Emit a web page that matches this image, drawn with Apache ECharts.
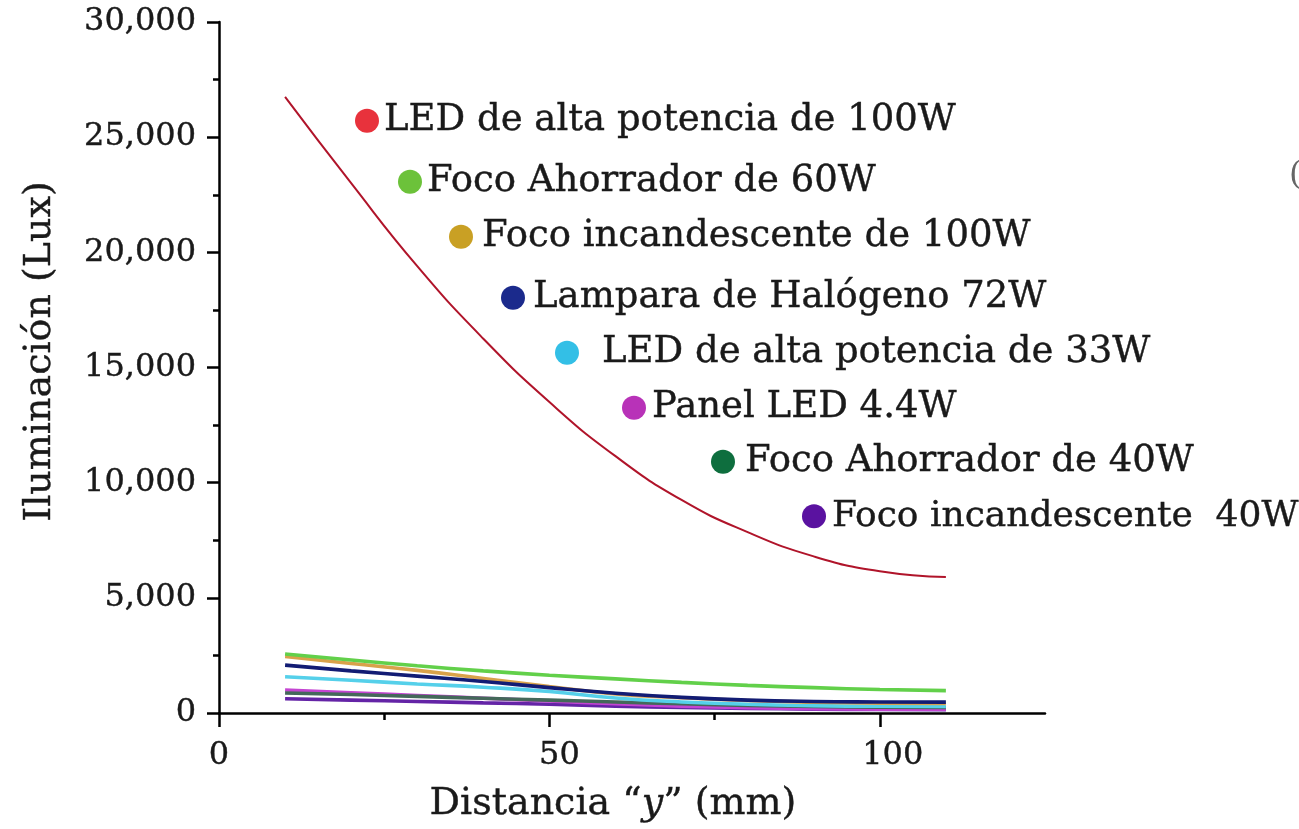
<!DOCTYPE html>
<html>
<head>
<meta charset="utf-8">
<script src="https://cdn.jsdelivr.net/npm/echarts@6/dist/echarts.min.js"></script>
<style>
html,body{margin:0;padding:0;background:#fff;}
#c{width:1299px;height:829px;}
</style>
</head>
<body>
<div id="c"></div>
<script>
// distances (mm)
const distances = [10, 20, 30, 40, 50, 60, 70, 80, 90, 100, 110];
// series names
const seriesNames = [
  'LED de alta potencia de 100W',
  'Foco Ahorrador de 60W',
  'Foco incandescente de 100W',
  'Lampara de Halógeno 72W',
  'LED de alta potencia de 33W',
  'Panel LED 4.4W',
  'Foco Ahorrador de 40W',
  'Foco incandescente  40W'
];
// illuminance values (Lux) per series
const led100 = [26750, 23000, 19400, 16250, 13500, 11150, 9250, 7850, 6800, 6150, 5900];
const ahorrador60 = [2560, 2300, 2050, 1830, 1640, 1480, 1330, 1200, 1100, 1020, 970];
const incand100 = [2450, 2150, 1850, 1500, 1150, 830, 660, 540, 470, 430, 410];
const halogeno72 = [2080, 1830, 1600, 1370, 1100, 860, 680, 560, 500, 480, 470];
const led33 = [1575, 1420, 1260, 1120, 930, 650, 480, 380, 320, 290, 280];
const panel44 = [1000, 880, 760, 640, 520, 400, 300, 230, 190, 170, 160];
const ahorrador40 = [870, 800, 720, 640, 560, 480, 400, 330, 280, 250, 240];
const incand40 = [620, 560, 500, 440, 380, 300, 240, 200, 170, 150, 140];
// tick values
const xMajorTicks = [0, 50, 100];
const xMinorTicks = [25, 75];

const allValues = [led100, ahorrador60, incand100, halogeno72, led33, panel44, ahorrador40, incand40];
const dotColors = ['#e8323c', '#6cc23a', '#c9a024', '#1b2a8c', '#33bfe6', '#b832b8', '#0e6e3e', '#5a12a0'];
const lineColors = ['#b0142a', '#62d04a', '#d9a24a', '#121c74', '#55d0ea', '#c444d2', '#44685a', '#6424a6'];
const lineWidths = [2, 3.6, 3.6, 3.6, 3.6, 3.6, 3.6, 3.6];
const zOrder = [10, 9, 7, 8, 6, 4, 5, 3];
// legend placement (dot centre), extra text gap, font size
const legendPos = [[367,120,0,37],[410,181,0,37],[461,236,4,37],[513,297,3,37],[567,352,18,37],[634,407,1,37],[723,461,5,37],[814,516,1,36]];

const FONT = '"DejaVu Serif", "Liberation Serif", serif';
const TXT = '#1a1a1a';

function pairs(vals){ return distances.map((d,i)=>[d, vals[i]]); }

const series = seriesNames.map((name, k) => ({
  name: name,
  type: 'line',
  data: pairs(allValues[k]),
  smooth: true,
  showSymbol: false,
  symbol: 'circle',
  z: zOrder[k],
  itemStyle: {color: dotColors[k]},
  lineStyle: {color: lineColors[k], width: lineWidths[k]},
  emphasis: {disabled: true}
}));

const legends = seriesNames.map((name, k) => ({
  data: [name],
  left: legendPos[k][0] - 12,
  top: legendPos[k][1] - 18,
  padding: 0,
  itemWidth: 24,
  itemHeight: 24,
  icon: 'circle',
  selectedMode: false,
  textStyle: {fontFamily: FONT, fontSize: legendPos[k][3], color: TXT, textBorderColor: TXT, textBorderWidth: 0.4,
    padding: [0,0,0,legendPos[k][2]]}
}));

function fmt(v){ return String(v).replace(/\B(?=(\d{3})+(?!\d))/g, ','); }

const chart = echarts.init(document.getElementById('c'), null, {renderer: 'canvas'});
chart.setOption({
  backgroundColor: '#fff',
  animation: false,
  grid: {left: 219, top: 22, width: 826, height: 691, containLabel: false},
  legend: legends,
  xAxis: [{
    type: 'value', min: 0, max: 125,
    name: 'Distancia “{i|y}” (mm)',
    nameLocation: 'middle', nameGap: 72,
    nameTextStyle: {fontFamily: FONT, fontSize: 38, color: TXT, padding: [0, 38, 0, 0],
      textBorderColor: TXT, textBorderWidth: 0.4,
      rich: {i: {fontFamily: FONT, fontSize: 38, fontStyle: 'italic', color: TXT, textBorderColor: TXT, textBorderWidth: 0.4}}},
    axisLine: {show: true, lineStyle: {color: '#000', width: 2.5}},
    axisTick: {show: true, length: 14, lineStyle: {color: '#000', width: 2.5}, customValues: xMajorTicks},
    axisLabel: {fontFamily: FONT, fontSize: 32, color: TXT, margin: 27, customValues: xMajorTicks,
      textBorderColor: TXT, textBorderWidth: 0.4,
      formatter: function(v){ return '{s' + xMajorTicks.indexOf(v) + '|' + v + '}'; },
      rich: {
        s0: {fontFamily: FONT, fontSize: 32, color: TXT, textBorderColor: TXT, textBorderWidth: 0.4},
        s1: {fontFamily: FONT, fontSize: 32, color: TXT, textBorderColor: TXT, textBorderWidth: 0.4, padding: [0,0,0,20]},
        s2: {fontFamily: FONT, fontSize: 32, color: TXT, textBorderColor: TXT, textBorderWidth: 0.4, padding: [0,0,0,26]}
      }},
    splitLine: {show: false}
  }, {
    type: 'value', min: 0, max: 125, position: 'bottom',
    axisLine: {show: false},
    axisTick: {show: true, length: 7, lineStyle: {color: '#000', width: 2.5}, customValues: xMinorTicks},
    axisLabel: {show: false},
    splitLine: {show: false}
  }],
  yAxis: {
    type: 'value', min: 0, max: 30000, interval: 5000,
    name: 'Iluminación (Lux)',
    nameLocation: 'middle', nameGap: 160,
    nameTextStyle: {fontFamily: FONT, fontSize: 38, color: TXT, textBorderColor: TXT, textBorderWidth: 0.4,
      padding: [0, 0, 0, 32]},
    axisLine: {show: true, lineStyle: {color: '#000', width: 2.5}},
    axisTick: {show: true, length: 12, lineStyle: {color: '#000', width: 2.5}},
    minorTick: {show: true, splitNumber: 2, length: 6, lineStyle: {color: '#000', width: 2.5}},
    axisLabel: {fontFamily: FONT, fontSize: 32, color: TXT, margin: 23, formatter: fmt,
      textBorderColor: TXT, textBorderWidth: 0.4},
    splitLine: {show: false},
    minorSplitLine: {show: false}
  },
  graphic: [{
    type: 'text', left: 1289, top: 160,
    style: {text: '(', fontFamily: FONT, fontSize: 32, fill: '#666'}
  }],
  series: series
});
</script>
</body>
</html>
